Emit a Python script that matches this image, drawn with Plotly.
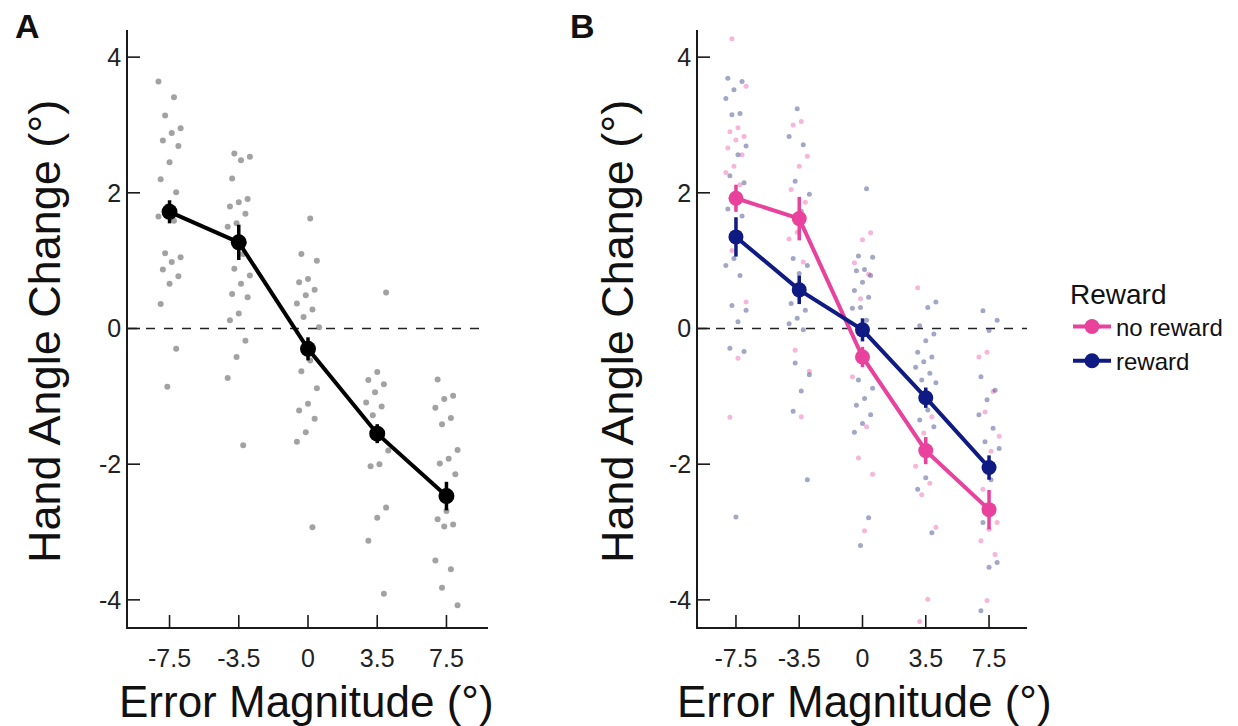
import plotly.graph_objects as go

# ---------------- data ----------------
conditions = ["-7.5", "-3.5", "0", "3.5", "7.5"]
y_ticks = [-4, -2, 0, 2, 4]

# Panel A: group means and SE
mean_A = [1.72, 1.27, -0.30, -1.55, -2.47]
se_A = [0.17, 0.26, 0.17, 0.14, 0.21]

# Panel A: individual participants
A_m75 = [3.64, 3.41, 3.14, 2.95, 2.88, 2.77, 2.69, 2.45, 2.20, 2.01, 1.80, 1.65, 1.59,
         1.11, 1.05, 0.98, 0.87, 0.77, 0.66, 0.36, -0.30, -0.86]
A_m35 = [2.58, 2.53, 2.48, 2.21, 1.91, 1.86, 1.80, 1.69, 1.55, 1.50, 1.10, 0.88, 0.78,
         0.66, 0.51, 0.46, 0.22, 0.12, -0.18, -0.42, -0.73, -1.72]
A_0 = [1.62, 1.10, 1.00, 0.73, 0.68, 0.57, 0.49, 0.37, 0.28, 0.17, 0.02, -0.47, -0.63,
       -0.88, -1.11, -1.21, -1.33, -1.53, -1.67, -2.93]
A_35 = [0.53, -0.64, -0.76, -0.82, -0.94, -1.09, -1.15, -1.28, -1.80, -2.00, -2.03,
        -2.64, -2.79, -3.13, -3.91]
A_75 = [-0.75, -0.99, -1.04, -1.17, -1.32, -1.41, -1.79, -1.92, -1.99, -2.15, -2.69,
        -2.81, -2.89, -2.92, -3.42, -3.55, -3.82, -4.08]

# Panel B: group means and SE
mean_noreward = [1.92, 1.62, -0.42, -1.80, -2.67]
se_noreward = [0.20, 0.32, 0.15, 0.20, 0.29]
mean_reward = [1.35, 0.57, -0.02, -1.02, -2.05]
se_reward = [0.29, 0.21, 0.17, 0.15, 0.18]

# Panel B: individual participants, no reward
NR_m75 = [4.27, 3.57, 2.96, 2.90, 2.83, 2.78, 2.66, 2.56, 2.39, 2.30, 2.12, 1.15, 0.39,
          -0.44, -1.31]
NR_m35 = [3.05, 3.00, 2.54, 2.39, 2.05, 1.86, 1.42, 1.32, 0.98, -0.32, -0.63, -1.30]
NR_0 = [1.41, 1.31, 0.97, 0.80, 0.44, -0.71, -1.45, -1.91, -2.15, -2.98]
NR_35 = [0.60, -1.30, -1.54, -2.03, -2.28, -2.45, -2.93, -3.99, -4.32]
NR_75 = [-0.35, -0.42, -0.93, -1.23, -1.59, -1.81, -2.37, -2.86, -2.96, -3.13, -3.33, -4.01]

# Panel B: individual participants, reward
R_m75 = [3.69, 3.64, 3.52, 3.39, 3.17, 3.15, 2.69, 2.56, 2.25, 2.15, 1.86, 1.76, 1.66,
         1.03, 0.93, 0.78, 0.34, 0.27, 0.10, -0.29, -0.34, -2.78]
R_m35 = [3.24, 2.83, 2.71, 2.17, 1.98, 1.73, 1.03, 0.93, 0.81, 0.37, 0.27, 0.15, 0.07,
         -0.02, -0.51, -0.68, -0.92, -1.22, -2.23]
R_0 = [2.06, 1.07, 1.05, 0.87, 0.85, 0.78, 0.68, 0.56, 0.46, 0.31, 0.30, 0.12, -0.76,
       -0.88, -1.03, -1.13, -1.27, -1.40, -1.53, -2.79, -3.20]
R_35 = [0.39, 0.31, 0.04, -0.08, -0.18, -0.35, -0.42, -0.49, -0.57, -0.66, -0.76, -0.80,
        -1.20, -1.35, -1.45, -2.20, -2.37, -3.01]
R_75 = [0.26, 0.12, -0.03, -0.71, -0.91, -1.05, -1.27, -1.47, -1.67, -1.77, -2.23, -2.86,
        -3.45, -3.52, -4.16]

# ---------------- styling ----------------
PINK = "#E8429C"
NAVY = "#0F1A82"
FONT = "Liberation Sans, Arial, sans-serif"
AXC = "#1a1a1a"
W, H = 1238, 726

xpos = [1, 2, 3, 4, 5]


def jitter(n, k, width=0.32):
    # deterministic horizontal spread for the raw-data dots
    return [(((i * 7 + k * 3) % 11) / 10.0 - 0.5) * width for i in range(n)]


def dots(groups, k):
    xs, ys = [], []
    for g, vals in enumerate(groups):
        off = jitter(len(vals), g + k)
        xs += [xpos[g] + o for o in off]
        ys += vals
    return xs, ys


fig = go.Figure()

# Panel A raw dots
xa, ya = dots([A_m75, A_m35, A_0, A_35, A_75], 0)
fig.add_trace(go.Scatter(x=xa, y=ya, mode="markers", xaxis="x", yaxis="y",
                         marker=dict(size=6, color="rgba(100,100,100,0.6)"),
                         showlegend=False, hoverinfo="y"))
# Panel A mean
fig.add_trace(go.Scatter(x=xpos, y=mean_A, mode="lines+markers", xaxis="x", yaxis="y",
                         line=dict(color="black", width=4),
                         marker=dict(size=16, color="black"),
                         error_y=dict(type="data", array=se_A, color="black",
                                      thickness=3.5, width=0),
                         showlegend=False))

# Panel B raw dots
xn, yn = dots([NR_m75, NR_m35, NR_0, NR_35, NR_75], 1)
fig.add_trace(go.Scatter(x=xn, y=yn, mode="markers", xaxis="x2", yaxis="y2",
                         marker=dict(size=5, color="rgba(236,90,170,0.45)"),
                         showlegend=False, hoverinfo="y"))
xr, yr = dots([R_m75, R_m35, R_0, R_35, R_75], 4)
fig.add_trace(go.Scatter(x=xr, y=yr, mode="markers", xaxis="x2", yaxis="y2",
                         marker=dict(size=5, color="rgba(50,60,130,0.45)"),
                         showlegend=False, hoverinfo="y"))
# Panel B means
fig.add_trace(go.Scatter(x=xpos, y=mean_noreward, mode="lines+markers", xaxis="x2", yaxis="y2",
                         name="no reward",
                         line=dict(color=PINK, width=4),
                         marker=dict(size=15, color=PINK),
                         error_y=dict(type="data", array=se_noreward, color=PINK,
                                      thickness=3.5, width=0)))
fig.add_trace(go.Scatter(x=xpos, y=mean_reward, mode="lines+markers", xaxis="x2", yaxis="y2",
                         name="reward",
                         line=dict(color=NAVY, width=4),
                         marker=dict(size=15, color=NAVY),
                         error_y=dict(type="data", array=se_reward, color=NAVY,
                                      thickness=3.5, width=0)))

axis_common = dict(showgrid=False, zeroline=False, showline=True, linecolor=AXC,
                   linewidth=1.6, ticks="", tickfont=dict(family=FONT, size=25, color="#222"))

xa_common = dict(axis_common, range=[0.4, 5.6], tickmode="array", tickvals=xpos,
                 ticktext=conditions, ticklabelstandoff=8)
ya_common = dict(axis_common, range=[-4.4, 4.4], tickmode="array",
                 tickvals=y_ticks, ticktext=[str(v) for v in y_ticks],
                 ticksuffix="   ")

fig.update_layout(
    width=W, height=H,
    margin=dict(l=0, r=0, t=0, b=0),
    paper_bgcolor="white", plot_bgcolor="white",
    font=dict(family=FONT, color="#111"),
    xaxis=dict(xa_common, domain=[128 / W, 488 / W], anchor="y"),
    yaxis=dict(ya_common, domain=[1 - 627 / H, 1 - 30 / H], anchor="x"),
    xaxis2=dict(xa_common, domain=[698 / W, 1027 / W], anchor="y2"),
    yaxis2=dict(ya_common, domain=[1 - 627 / H, 1 - 30 / H], anchor="x2"),
    legend=dict(x=1068 / W, y=1 - 268 / H, xanchor="left", yanchor="top",
                title=dict(text="Reward", font=dict(family=FONT, size=28, color="#111")),
                font=dict(family=FONT, size=24, color="#111"),
                itemwidth=38, bgcolor="rgba(0,0,0,0)"),
    showlegend=True,
)

# inward-pointing tick marks (12 px) drawn on each axis
plot_w = {"x": 488 - 128, "x2": 1027 - 698}
plot_h = 627 - 30
for xr_, yr_ in (("x", "y"), ("x2", "y2")):
    for v in xpos:
        fig.add_shape(type="line", xref=xr_, yref=f"{yr_} domain", x0=v, x1=v,
                      y0=0, y1=12 / plot_h, line=dict(color=AXC, width=1.6))
    for v in y_ticks:
        fig.add_shape(type="line", xref=f"{xr_} domain", yref=yr_, x0=0,
                      x1=12 / plot_w[xr_], y0=v, y1=v, line=dict(color=AXC, width=1.6))
    # dashed zero line
    fig.add_shape(type="line", xref=f"{xr_} domain", yref=yr_, x0=0, x1=1, y0=0, y1=0,
                  line=dict(color="#222", width=1.6, dash="dash"), layer="below")

# axis titles and panel letters
ann = [
    dict(text="Error Magnitude (°)", x=306 / W, y=1 - 701 / H, font_size=44),
    dict(text="Error Magnitude (°)", x=864 / W, y=1 - 701 / H, font_size=44),
    dict(text="Hand Angle Change (°)", x=45 / W, y=1 - 332 / H, font_size=45, textangle=-90),
    dict(text="Hand Angle Change (°)", x=618 / W, y=1 - 332 / H, font_size=45, textangle=-90),
    dict(text="<b>A</b>", x=27 / W, y=1 - 26 / H, font_size=34),
    dict(text="<b>B</b>", x=582 / W, y=1 - 26 / H, font_size=34),
]
for a in ann:
    fs = a.pop("font_size")
    fig.add_annotation(xref="paper", yref="paper", xanchor="center", yanchor="middle",
                       showarrow=False, font=dict(family=FONT, size=fs, color="#111"), **a)

fig.write_html("out.html")
